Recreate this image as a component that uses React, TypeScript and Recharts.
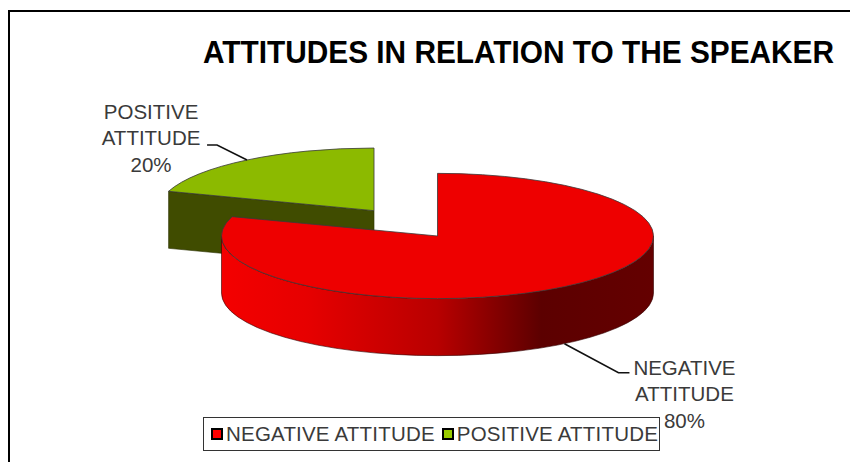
import { Legend, Pie, PieChart } from "recharts";

// drawn back to front: the exploded slice sits behind the large one
const categories = ["POSITIVE ATTITUDE", "NEGATIVE ATTITUDE"];
const shares = [20, 80];

const topColors = ["#8cba00", "#ee0000"];
const wallColors = ["#404c00", "#600000"];
const legendColors = ["#99cc00", "#ff0000"];

const chartData = categories.map((name, i) => ({ name, share: shares[i], fill: topColors[i] }));

const FONT = "'Liberation Sans', Arial, sans-serif";
const TILT = 0.29;
const DEPTH = 57;
const RADIUS = 216;
const EXPLODE = 108;

const rad = (deg: number) => (deg * Math.PI) / 180;

function explodeFor(percent: number) {
  return percent < 0.5 ? EXPLODE : 0;
}

// centre of the tilted top face after the slice has been pulled out
function faceCentre(cx: number, cy: number, midAngle: number, percent: number) {
  const r = explodeFor(percent);
  return { x: cx + r * Math.cos(rad(midAngle)), y: cy - r * TILT * Math.sin(rad(midAngle)) };
}

function Slice3D(props: any) {
  const { cx, cy, outerRadius, startAngle, endAngle, midAngle, percent, fill, payload } = props;
  const c = faceCentre(cx, cy, midAngle, percent);
  const rx = outerRadius;
  const ry = outerRadius * TILT;
  const pt = (deg: number) => ({ x: c.x + rx * Math.cos(rad(deg)), y: c.y - ry * Math.sin(rad(deg)) });
  const s = pt(startAngle);
  const e = pt(endAngle);
  const large = startAngle - endAngle > 180 ? 1 : 0;
  const top = `M${c.x},${c.y} L${s.x},${s.y} A${rx},${ry} 0 ${large} 1 ${e.x},${e.y} Z`;
  const wall = wallColors[categories.indexOf(payload?.name ?? props.name)];
  const gradId = `rim-${Math.round(startAngle)}`;

  const edgeWall = (p: { x: number; y: number }) =>
    `M${c.x},${c.y} L${p.x},${p.y} L${p.x},${p.y + DEPTH} L${c.x},${c.y + DEPTH} Z`;

  // outer rim only shows on the front half of the ellipse
  const rimFrom = Math.min(startAngle, 0);
  const rimTo = Math.max(endAngle, -180);
  let rim = null;
  if (rimFrom > rimTo) {
    const a = pt(rimFrom);
    const b = pt(rimTo);
    rim = `M${a.x},${a.y} A${rx},${ry} 0 0 1 ${b.x},${b.y} L${b.x},${b.y + DEPTH} A${rx},${ry} 0 0 0 ${a.x},${a.y + DEPTH} Z`;
  }

  return (
    <g>
      <defs>
        <linearGradient id={gradId} x1="0" y1="0" x2="1" y2="0">
          <stop offset="0" stopColor="#f40000" />
          <stop offset="0.2" stopColor="#e60000" />
          <stop offset="0.5" stopColor="#b80000" />
          <stop offset="0.74" stopColor="#5c0000" />
          <stop offset="1" stopColor="#640000" />
        </linearGradient>
      </defs>
      {Math.cos(rad(startAngle)) < -0.001 && (
        <path d={edgeWall(s)} fill={wall} stroke="#2a3000" strokeWidth={0.6} />
      )}
      {Math.cos(rad(endAngle)) > 0.001 && (
        <path d={edgeWall(e)} fill={wall} stroke="#2a3000" strokeWidth={0.6} />
      )}
      {rim && <path d={rim} fill={`url(#${gradId})`} stroke="#300000" strokeWidth={0.6} />}
      <path d={top} fill={fill} stroke="#3a3a3a" strokeWidth={0.8} strokeLinejoin="round" />
    </g>
  );
}

function SliceLabel(props: any) {
  const { cx, cy, midAngle, percent, name } = props;
  const c = faceCentre(cx, cy, midAngle, percent);
  const sin = Math.sin(rad(midAngle));
  const cos = Math.cos(rad(midAngle));
  const sx = c.x + RADIUS * cos;
  const sy = c.y - RADIUS * TILT * sin + (sin < 0 ? DEPTH : 0);
  const onRight = cos > 0;
  const ex = sx + (onRight ? 54 : -30);
  const ey = sy + (onRight ? 29 : -15);
  const hx = ex + (onRight ? 11 : -10);
  const textX = hx + (onRight ? 55 : -56);
  const firstBase = onRight ? ey + 2 : ey - 26;
  const lines = [...String(name).split(" "), `${Math.round(percent * 100)}%`];
  return (
    <g>
      <polyline
        points={`${sx},${sy} ${ex},${ey} ${hx},${ey}`}
        fill="none"
        stroke="#111"
        strokeWidth={1.6}
      />
      {lines.map((line, i) => (
        <text
          key={line}
          x={textX}
          y={firstBase + i * 26.5}
          textAnchor="middle"
          fontFamily={FONT}
          fontSize={20.5}
          fill="#3a3a3a"
        >
          {line}
        </text>
      ))}
    </g>
  );
}

function LegendBox({ payload }: any) {
  return (
    <div
      style={{
        boxSizing: "border-box",
        width: 457,
        height: 34,
        border: "1.5px solid #333",
        background: "#fff",
        display: "flex",
        alignItems: "center",
        paddingLeft: 7,
        fontFamily: FONT,
        fontSize: 20.5,
        letterSpacing: 0.2,
        color: "#3a3a3a",
        whiteSpace: "nowrap",
      }}
    >
      {(payload ?? []).map((item: any) => (
        <span key={item.value} style={{ display: "flex", alignItems: "center", marginRight: 7 }}>
          <span
            style={{
              boxSizing: "border-box",
              width: 12,
              height: 12,
              border: "2px solid #000",
              background: legendColors[categories.indexOf(item.value)],
              marginRight: 3,
            }}
          />
          {item.value}
        </span>
      ))}
    </div>
  );
}

export default function App() {
  return (
    <div style={{ position: "absolute", left: 0, top: 0, width: 850, height: 462, overflow: "hidden", background: "#fff" }}>
      <div
        style={{
          position: "absolute",
          left: 8,
          top: 10,
          width: 842,
          height: 452,
          borderTop: "2.5px solid #000",
          borderLeft: "2.5px solid #000",
        }}
      />
      <div style={{ position: "absolute", left: 0, top: 0 }}>
        <PieChart width={850} height={462} margin={{ top: 0, right: 0, bottom: 0, left: 0 }}>
          {/* tall narrow heading: stretched vertically */}
          <text
            transform="translate(203,63) scale(1,1.15)"
            fontFamily={FONT}
            fontWeight="bold"
            fontSize={27}
            fill="#000"
            textLength={631}
            lengthAdjust="spacingAndGlyphs"
          >
            ATTITUDES IN RELATION TO THE SPEAKER
          </text>
          <Pie
            data={chartData}
            dataKey="share"
            nameKey="name"
            cx={437.5}
            cy={236}
            outerRadius={RADIUS}
            startAngle={162}
            endAngle={-198}
            stroke="none"
            shape={Slice3D}
            label={SliceLabel}
            labelLine={false}
            isAnimationActive={false}
          />
          <Legend
            content={LegendBox}
            wrapperStyle={{ position: "absolute", left: 203, top: 417, width: 457, bottom: "auto" }}
          />
        </PieChart>
      </div>
    </div>
  );
}
